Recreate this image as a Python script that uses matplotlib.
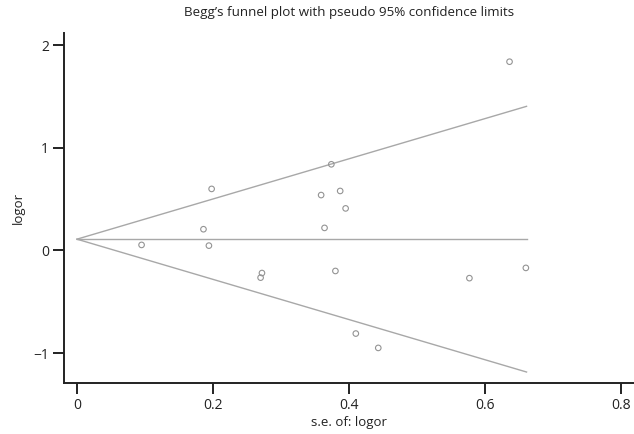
import matplotlib
matplotlib.use("Agg")
from matplotlib import pyplot as plt

# study-level data: standard error and log odds ratio
se_logor = [0.095, 0.186, 0.198, 0.194, 0.272, 0.270, 0.636, 0.374, 0.359,
            0.387, 0.395, 0.364, 0.380, 0.577, 0.660, 0.410, 0.443]
logor = [0.054, 0.207, 0.600, 0.047, -0.220, -0.265, 1.840, 0.840, 0.540,
         0.580, 0.410, 0.220, -0.200, -0.270, -0.170, -0.810, -0.950]

# pooled estimate and pseudo 95% confidence limits
line_se = [0.0, 0.661]
pooled = [0.11, 0.11]
upper_limit = [0.11, 1.405]
lower_limit = [0.11, -1.185]

x_ticks = [0, 0.2, 0.4, 0.6, 0.8]
y_ticks = [-1, 0, 1, 2]

plt.rcParams['font.family'] = ['Open Sans', 'DejaVu Sans']

fig = plt.figure(figsize=(6.34, 4.34), dpi=100)
ax = fig.add_axes([0.101, 0.118, 0.899, 0.806])

line_color = '#a8a8a8'
ax.plot(line_se, upper_limit, color=line_color, linewidth=1.0)
ax.plot(line_se, lower_limit, color=line_color, linewidth=1.0)
ax.plot(line_se, pooled, color=line_color, linewidth=1.0)
ax.scatter(se_logor, logor, s=16, facecolors='none', edgecolors='#939393', linewidths=0.8, zorder=3)

ax.set_xlim(-0.019, 0.819)
ax.set_ylim(-1.29, 2.12)
ax.set_xticks(x_ticks)
ax.set_xticklabels(['0', '0.2', '0.4', '0.6', '0.8'])
ax.set_yticks(y_ticks)
ax.set_yticklabels(['\u22121', '0', '1', '2'])

for side in ['top', 'right']:
    ax.spines[side].set_visible(False)
for side in ['left', 'bottom']:
    ax.spines[side].set_linewidth(1.4)
    ax.spines[side].set_color('#222222')
ax.tick_params(direction='out', length=8, width=1.4, color='#222222',
               labelsize=10, labelcolor='#222222', pad=3)

ax.set_xlabel("s.e. of: logor", fontsize=9.5, color='#222222', labelpad=2)
ax.set_ylabel("logor", fontsize=9.5, color='#222222', labelpad=6)
ax.set_title("Begg\u2019s funnel plot with pseudo 95% confidence limits",
             fontsize=9.6, color='#222222', pad=12)

fig.savefig("out.png", dpi=100)
plt.close(fig)
